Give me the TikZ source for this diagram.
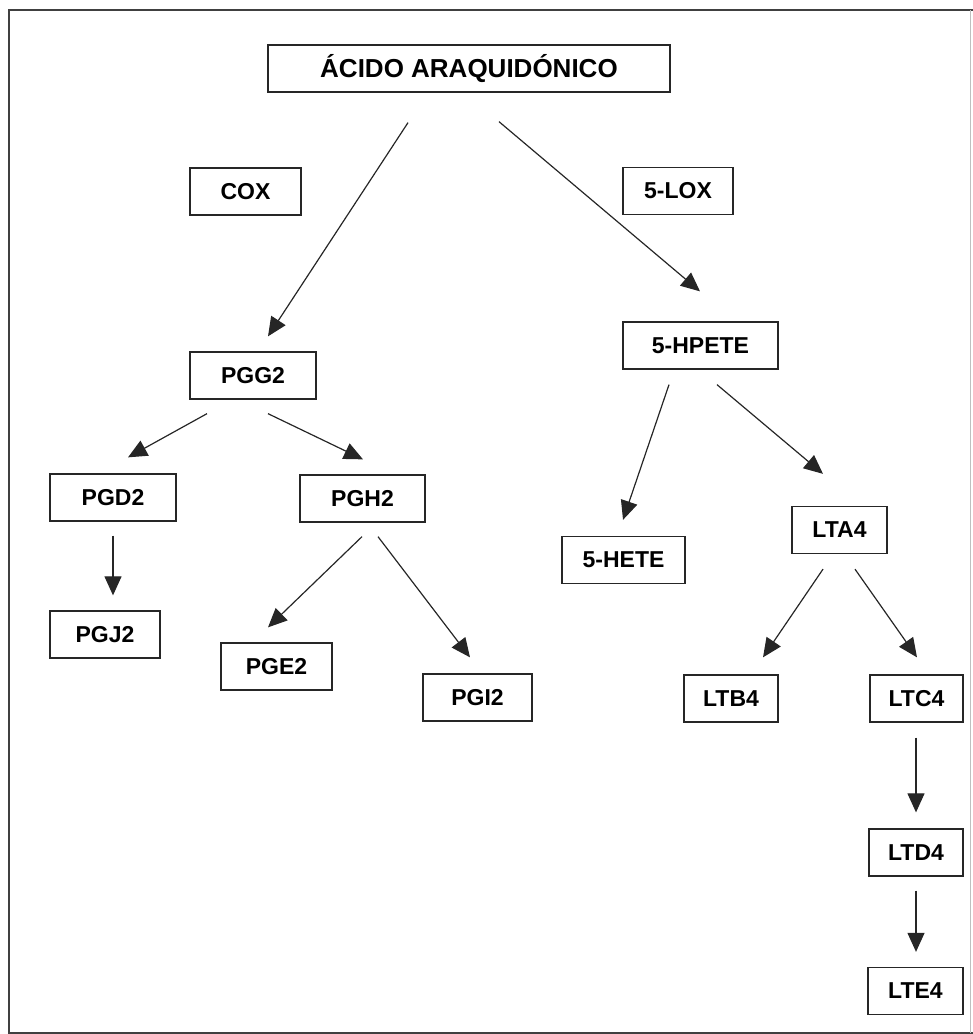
\documentclass[tikz,border=0pt]{standalone}
\usepackage{fontspec}
\setmainfont{Liberation Sans}
\usetikzlibrary{arrows.meta}
\begin{document}
\begin{tikzpicture}[x=1pt,y=-1pt,
  box/.style={draw=black!85,line width=1.3pt,minimum height=47pt,inner sep=0pt,
    font=\fontsize{23}{27}\selectfont\bfseries},
  arr/.style={draw=black!85,line width=1.2pt,-{Triangle[length=19pt,width=17pt]}},
  frame/.style={draw=black!75,line width=1.8pt}]
\useasboundingbox (0,0) rectangle (973,1034);
% frame
\draw[frame] (973,10) -- (9,10) -- (9,1033) -- (973,1033);
\draw[draw=black!25,line width=0.8pt] (970,10) -- (970,1033);
% nodes
\node[box,minimum width=402pt,font=\fontsize{26}{30}\selectfont\bfseries] (acid) at (469,68.5) {ÁCIDO ARAQUIDÓNICO};
\node[box,minimum width=111pt] (cox) at (245.5,191.5) {COX};
\node[box,minimum width=110pt] (lox) at (678,191) {5-LOX};
\node[box,minimum width=126pt] (pgg2) at (253,375.5) {PGG2};
\node[box,minimum width=155pt] (hpete) at (700.5,345.5) {5-HPETE};
\node[box,minimum width=126pt] (pgd2) at (113,497.5) {PGD2};
\node[box,minimum width=125pt] (pgh2) at (362.5,498.5) {PGH2};
\node[box,minimum width=110pt] (pgj2) at (105,634.5) {PGJ2};
\node[box,minimum width=111pt] (pge2) at (276.5,666.5) {PGE2};
\node[box,minimum width=109pt] (pgi2) at (477.5,697.5) {PGI2};
\node[box,minimum width=123pt] (hete) at (623.5,560) {5-HETE};
\node[box,minimum width=95pt] (lta4) at (839.5,530) {LTA4};
\node[box,minimum width=94pt] (ltb4) at (731,698.5) {LTB4};
\node[box,minimum width=93pt] (ltc4) at (916.5,698.5) {LTC4};
\node[box,minimum width=94pt] (ltd4) at (916,852.5) {LTD4};
\node[box,minimum width=95pt] (lte4) at (915.5,991) {LTE4};
% connectors
\draw[arr] ([xshift=-61pt,yshift=-30pt]acid.south) -- ([xshift=15pt,yshift=15pt]pgg2.north);
\draw[arr] ([xshift=30pt,yshift=-29pt]acid.south) -- ([xshift=-0.5pt,yshift=30pt]hpete.north);
\draw[arr] ([xshift=-46pt,yshift=-14pt]pgg2.south) -- ([xshift=15pt,yshift=16pt]pgd2.north);
\draw[arr] ([xshift=15pt,yshift=-14pt]pgg2.south) -- ([xshift=0.5pt,yshift=15pt]pgh2.north);
\draw[arr] ([yshift=-14pt]pgd2.south) -- ([xshift=8pt,yshift=15pt]pgj2.north);
\draw[arr] ([xshift=-0.5pt,yshift=-14pt]pgh2.south) -- ([xshift=-8.5pt,yshift=15pt]pge2.north);
\draw[arr] ([xshift=15.5pt,yshift=-14pt]pgh2.south) -- ([xshift=-7.5pt,yshift=16pt]pgi2.north);
\draw[arr] ([xshift=-31.5pt,yshift=-15pt]hpete.south) -- ([xshift=-0.5pt,yshift=16pt]hete.north);
\draw[arr] ([xshift=16.5pt,yshift=-15pt]hpete.south) -- ([xshift=-16.5pt,yshift=32pt]lta4.north);
\draw[arr] ([xshift=-16.5pt,yshift=-15pt]lta4.south) -- ([xshift=32pt,yshift=17pt]ltb4.north);
\draw[arr] ([xshift=15.5pt,yshift=-15pt]lta4.south) -- ([xshift=0.5pt,yshift=17pt]ltc4.north);
\draw[arr] ([xshift=-0.5pt,yshift=-15pt]ltc4.south) -- ([yshift=16pt]ltd4.north);
\draw[arr] ([yshift=-14pt]ltd4.south) -- ([xshift=0.5pt,yshift=15pt]lte4.north);
\end{tikzpicture}
\end{document}
